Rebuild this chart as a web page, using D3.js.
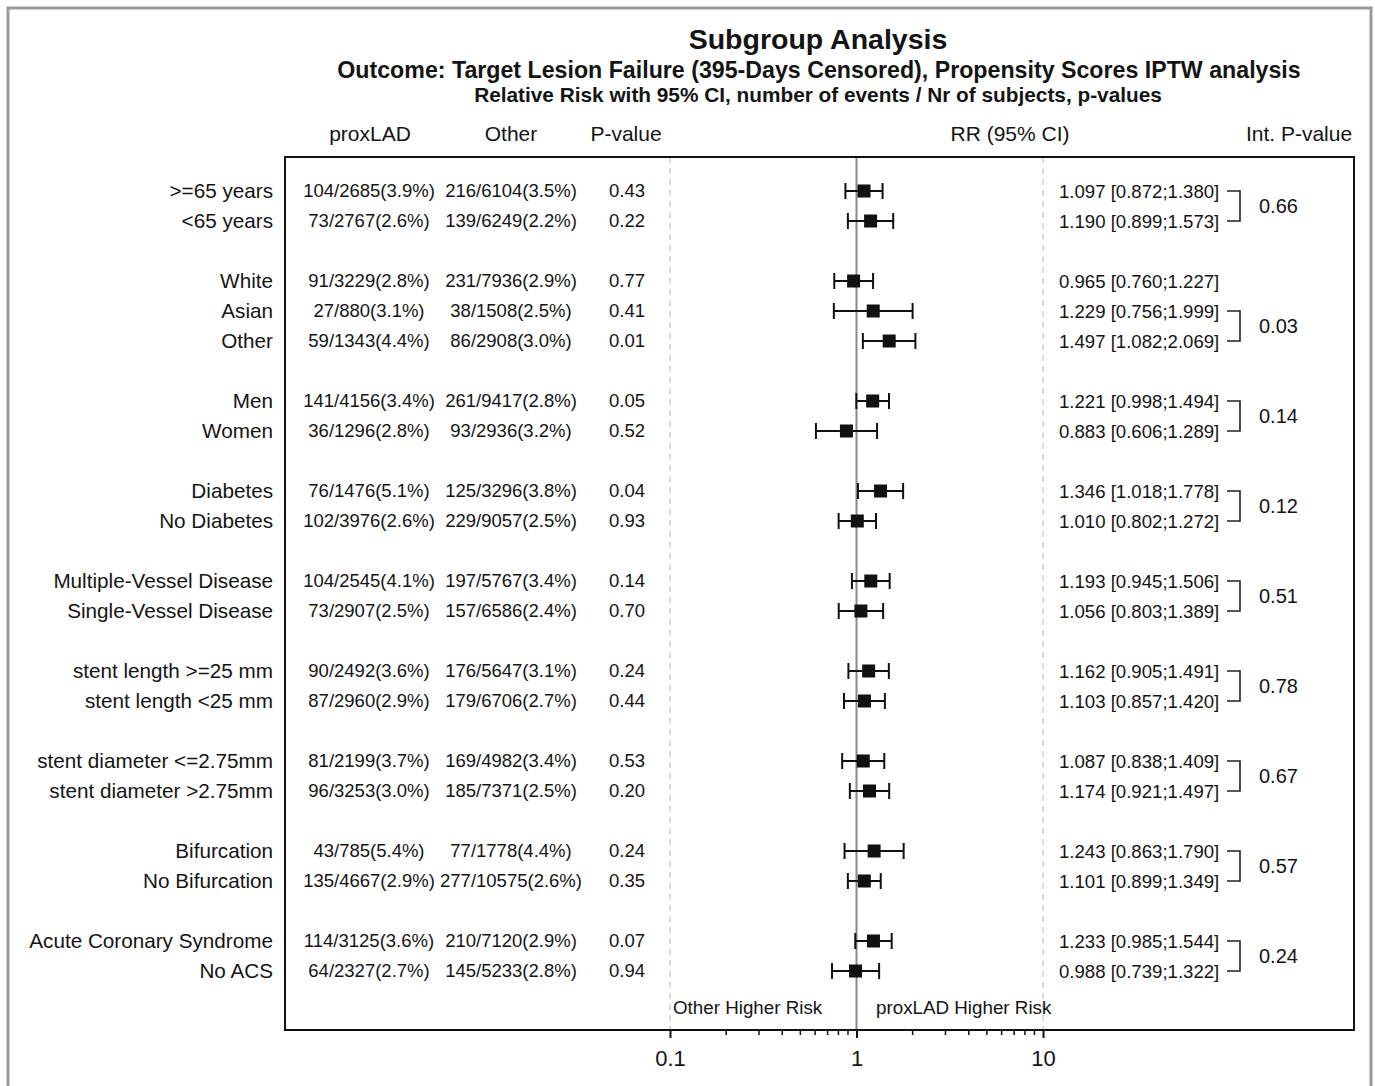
<!DOCTYPE html>
<html>
<head>
<meta charset="utf-8">
<script src="https://cdn.jsdelivr.net/npm/d3@7"></script>
<style>
  body { margin: 0; background: #fff; }
  svg { font-family: "Liberation Sans", Arial, sans-serif; }
</style>
</head>
<body>
<svg id="chart" width="1375" height="1086"></svg>
<script>
// subgroup rows
var labels = [">=65 years", "<65 years",
  "White", "Asian", "Other",
  "Men", "Women",
  "Diabetes", "No Diabetes",
  "Multiple-Vessel Disease", "Single-Vessel Disease",
  "stent length >=25 mm", "stent length <25 mm",
  "stent diameter <=2.75mm", "stent diameter >2.75mm",
  "Bifurcation", "No Bifurcation",
  "Acute Coronary Syndrome", "No ACS"];
var proxLAD = ["104/2685(3.9%)", "73/2767(2.6%)",
  "91/3229(2.8%)", "27/880(3.1%)", "59/1343(4.4%)",
  "141/4156(3.4%)", "36/1296(2.8%)",
  "76/1476(5.1%)", "102/3976(2.6%)",
  "104/2545(4.1%)", "73/2907(2.5%)",
  "90/2492(3.6%)", "87/2960(2.9%)",
  "81/2199(3.7%)", "96/3253(3.0%)",
  "43/785(5.4%)", "135/4667(2.9%)",
  "114/3125(3.6%)", "64/2327(2.7%)"];
var other = ["216/6104(3.5%)", "139/6249(2.2%)",
  "231/7936(2.9%)", "38/1508(2.5%)", "86/2908(3.0%)",
  "261/9417(2.8%)", "93/2936(3.2%)",
  "125/3296(3.8%)", "229/9057(2.5%)",
  "197/5767(3.4%)", "157/6586(2.4%)",
  "176/5647(3.1%)", "179/6706(2.7%)",
  "169/4982(3.4%)", "185/7371(2.5%)",
  "77/1778(4.4%)", "277/10575(2.6%)",
  "210/7120(2.9%)", "145/5233(2.8%)"];
var pvals = ["0.43", "0.22", "0.77", "0.41", "0.01", "0.05", "0.52", "0.04", "0.93",
  "0.14", "0.70", "0.24", "0.44", "0.53", "0.20", "0.24", "0.35", "0.07", "0.94"];
var rr = [1.097, 1.190, 0.965, 1.229, 1.497, 1.221, 0.883, 1.346, 1.010,
  1.193, 1.056, 1.162, 1.103, 1.087, 1.174, 1.243, 1.101, 1.233, 0.988];
var lo = [0.872, 0.899, 0.760, 0.756, 1.082, 0.998, 0.606, 1.018, 0.802,
  0.945, 0.803, 0.905, 0.857, 0.838, 0.921, 0.863, 0.899, 0.985, 0.739];
var hi = [1.380, 1.573, 1.227, 1.999, 2.069, 1.494, 1.289, 1.778, 1.272,
  1.506, 1.389, 1.491, 1.420, 1.409, 1.497, 1.790, 1.349, 1.544, 1.322];

// groups of rows, interaction p-value, rows skipped before the bracket
var groupSizes = [2, 3, 2, 2, 2, 2, 2, 2, 2];
var intP = ["0.66", "0.03", "0.14", "0.12", "0.51", "0.78", "0.67", "0.57", "0.24"];
var bracketSkip = [0, 1, 0, 0, 0, 0, 0, 0, 0];

var axisTicks = [0.1, 1, 10];
var minorTicks = [0.2, 0.3, 0.4, 0.5, 0.6, 0.7, 0.8, 0.9, 2, 3, 4, 5, 6, 7, 8, 9];

var svg = d3.select("#chart");
var ink = "#141414";

// slot index per row (a blank slot between groups)
var slots = [];
var groupRanges = [];
var s = 0, r = 0;
groupSizes.forEach(function(n, g){
  groupRanges.push([r, r + n - 1]);
  for(var i = 0; i < n; i++){ slots.push(s); s++; r++; }
  s++;
});

var box = {left: 285, right: 1354, top: 157, bottom: 1030};
var x = d3.scaleLog().domain([0.1, 10]).range([670, 1043]);
var y = d3.scaleLinear().domain([0, 1]).range([191, 221]);

// outer frame
svg.append("rect")
  .attr("x", 8).attr("y", 8).attr("width", 1363).attr("height", 1100)
  .attr("fill", "none").attr("stroke", "#9a9a9a").attr("stroke-width", 3);

// titles
svg.append("text").attr("x", 818).attr("y", 49).attr("text-anchor", "middle")
  .attr("font-size", 28.5).attr("font-weight", "bold").attr("fill", ink).text("Subgroup Analysis");
svg.append("text").attr("x", 819).attr("y", 78).attr("text-anchor", "middle")
  .attr("font-size", 23.2).attr("font-weight", "bold").attr("fill", ink)
  .text("Outcome: Target Lesion Failure (395-Days Censored), Propensity Scores IPTW analysis");
svg.append("text").attr("x", 818).attr("y", 102).attr("text-anchor", "middle")
  .attr("font-size", 20.8).attr("font-weight", "bold").attr("fill", ink)
  .text("Relative Risk with 95% CI, number of events / Nr of subjects, p-values");

// column headers
var headers = [["proxLAD", 370], ["Other", 511], ["P-value", 626], ["RR (95% CI)", 1010], ["Int. P-value", 1299]];
svg.selectAll("text.hdr").data(headers).enter().append("text")
  .attr("class", "hdr")
  .attr("x", function(d){ return d[1]; }).attr("y", 141)
  .attr("text-anchor", "middle").attr("font-size", 21)
  .attr("fill", ink)
  .text(function(d){ return d[0]; });

// reference lines
[0.1, 10].forEach(function(v){
  svg.append("line")
    .attr("x1", x(v)).attr("x2", x(v))
    .attr("y1", box.top).attr("y2", box.bottom)
    .attr("stroke", "#cfcfcf").attr("stroke-width", 1.5)
    .attr("stroke-dasharray", "6,5");
});
svg.append("line")
  .attr("x1", x(1)).attr("x2", x(1))
  .attr("y1", box.top).attr("y2", box.bottom)
  .attr("stroke", "#8a8a8a").attr("stroke-width", 2);

// box
svg.append("rect")
  .attr("x", box.left).attr("y", box.top)
  .attr("width", box.right - box.left).attr("height", box.bottom - box.top)
  .attr("fill", "none").attr("stroke", "#111").attr("stroke-width", 2);

// axis
var axis = d3.axisBottom(x).tickValues(axisTicks).tickSize(8).tickPadding(12)
  .tickFormat(function(d){ return d >= 1 ? d3.format("d")(d) : d; });
var ax = svg.append("g").attr("transform", "translate(0," + box.bottom + ")").call(axis);
ax.select(".domain").remove();
ax.selectAll(".tick line").attr("stroke", "#111").attr("stroke-width", 2);
ax.selectAll(".tick text").attr("font-size", 22).attr("fill", ink)
  .attr("font-family", "Liberation Sans, Arial, sans-serif");
svg.selectAll("line.minor").data(minorTicks).enter().append("line")
  .attr("class", "minor")
  .attr("x1", function(d){ return x(d); }).attr("x2", function(d){ return x(d); })
  .attr("y1", box.bottom).attr("y2", box.bottom + 5)
  .attr("stroke", "#111").attr("stroke-width", 1.5);

// rows
var rows = svg.selectAll("g.row").data(labels).enter().append("g")
  .attr("class", "row")
  .attr("transform", function(d, i){ return "translate(0," + y(slots[i]) + ")"; });

function col(sel, xpos, anchor, size, acc){
  sel.append("text").attr("x", xpos).attr("dy", "0.35em")
    .attr("text-anchor", anchor).attr("font-size", size).attr("fill", ink)
    .text(acc);
}
col(rows, 273, "end", 20.7, function(d){ return d; });
col(rows, 369, "middle", 18.5, function(d, i){ return proxLAD[i]; });
col(rows, 511, "middle", 18.5, function(d, i){ return other[i]; });
col(rows, 627, "middle", 18.5, function(d, i){ return pvals[i]; });
col(rows, 1059, "start", 18.6, function(d, i){
  return rr[i].toFixed(3) + " [" + lo[i].toFixed(3) + ";" + hi[i].toFixed(3) + "]";
});

// CI whiskers
rows.append("line")
  .attr("x1", function(d, i){ return x(lo[i]); })
  .attr("x2", function(d, i){ return x(hi[i]); })
  .attr("stroke", "#111").attr("stroke-width", 1.8);
rows.append("line")
  .attr("x1", function(d, i){ return x(lo[i]); }).attr("x2", function(d, i){ return x(lo[i]); })
  .attr("y1", -8).attr("y2", 8).attr("stroke", "#111").attr("stroke-width", 2);
rows.append("line")
  .attr("x1", function(d, i){ return x(hi[i]); }).attr("x2", function(d, i){ return x(hi[i]); })
  .attr("y1", -8).attr("y2", 8).attr("stroke", "#111").attr("stroke-width", 2);
rows.append("rect")
  .attr("x", function(d, i){ return x(rr[i]) - 6.5; })
  .attr("y", -6.5).attr("width", 13).attr("height", 13)
  .attr("fill", "#111");

// interaction brackets
groupRanges.forEach(function(gr, g){
  var y1 = y(slots[gr[0] + bracketSkip[g]]);
  var y2 = y(slots[gr[1]]);
  svg.append("path")
    .attr("d", "M1227," + y1 + "H1240V" + y2 + "H1227")
    .attr("fill", "none").attr("stroke", "#222").attr("stroke-width", 1.6);
  svg.append("text").attr("x", 1259).attr("y", (y1 + y2) / 2).attr("dy", "0.35em")
    .attr("font-size", 20).attr("fill", ink).text(intP[g]);
});

// direction labels
svg.append("text").attr("x", 673).attr("y", 1014).attr("font-size", 18.8).attr("fill", ink)
  .text("Other Higher Risk");
svg.append("text").attr("x", 876).attr("y", 1014).attr("font-size", 18.8).attr("fill", ink)
  .text("proxLAD Higher Risk");
</script>
</body>
</html>
